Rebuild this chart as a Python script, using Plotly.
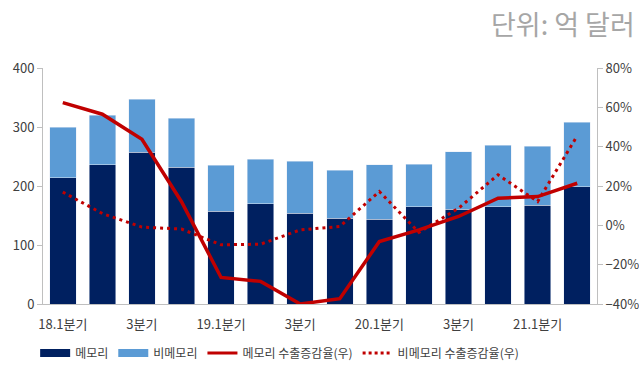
import plotly.graph_objects as go

quarters = ["18.1분기", "18.2분기", "18.3분기", "18.4분기",
            "19.1분기", "19.2분기", "19.3분기", "19.4분기",
            "20.1분기", "20.2분기", "20.3분기", "20.4분기",
            "21.1분기", "21.2분기"]
tick_labels = ["18.1분기", "", "3분기", "", "19.1분기", "", "3분기", "",
               "20.1분기", "", "3분기", "", "21.1분기", ""]
memory = [214, 236, 257, 232, 157, 170, 154, 145, 144, 165, 161, 165, 167, 199]
total = [300, 320, 347, 315, 235, 245, 242, 227, 236, 237, 258, 269, 267, 308]
non_memory = [t - m for t, m in zip(total, memory)]
memory_growth = [62.4, 56.5, 43.8, 12.0, -26.5, -28.5, -40.0, -37.3, -8.2, -2.3, 4.5, 13.8, 14.6, 21.4]
non_memory_growth = [16.9, 6.0, -0.9, -1.9, -9.9, -9.6, -2.3, -0.6, 17.2, -3.6, 8.7, 25.7, 12.1, 45.5]

NAVY = "#002060"
LIGHT = "#5B9BD5"
RED = "#C00000"
FONT = "Noto Sans CJK KR"

x = list(range(len(quarters)))

fig = go.Figure()
fig.add_trace(go.Bar(x=x, y=memory, marker_color=NAVY, name="메모리",
                     showlegend=False, hovertext=quarters))
fig.add_trace(go.Bar(x=x, y=non_memory, marker_color=LIGHT, name="비메모리",
                     showlegend=False, hovertext=quarters))
fig.add_trace(go.Scatter(x=x, y=memory_growth, yaxis="y2", mode="lines",
                         line=dict(color=RED, width=3.5), name="메모리 수출증감율(우)",
                         showlegend=False))
fig.add_trace(go.Scatter(x=x, y=non_memory_growth, yaxis="y2", mode="lines",
                         line=dict(color=RED, width=3, dash="3px,4px"),
                         name="비메모리 수출증감율(우)", showlegend=False))

# legend entries
fig.add_trace(go.Scatter(x=[None], y=[None], mode="lines",
                         line=dict(color=NAVY, width=8), name="메모리"))
fig.add_trace(go.Scatter(x=[None], y=[None], mode="lines",
                         line=dict(color=LIGHT, width=8), name="비메모리"))
fig.add_trace(go.Scatter(x=[None], y=[None], mode="lines",
                         line=dict(color=RED, width=3), name="메모리 수출증감율(우)"))
fig.add_trace(go.Scatter(x=[None], y=[None], mode="lines",
                         line=dict(color=RED, width=3, dash="3px,3px"),
                         name="비메모리 수출증감율(우)"))

axis_color = "#BFBFBF"
tick_font = dict(family=FONT, size=13, color="#404040")

fig.update_layout(
    width=639, height=365,
    margin=dict(l=43, r=42, t=68, b=61),
    paper_bgcolor="white", plot_bgcolor="white",
    barmode="stack", bargap=0.33,
    font=dict(family=FONT, size=13, color="#404040"),
    xaxis=dict(tickmode="array", tickvals=x, ticktext=tick_labels,
               range=[-0.5, len(x) - 0.5], showgrid=False, zeroline=False,
               showline=True, linecolor=axis_color, linewidth=1,
               ticks="", tickfont=tick_font, ticklabelstandoff=8,
               fixedrange=True, automargin=False),
    yaxis=dict(range=[0, 400], dtick=100, showgrid=False, zeroline=False,
               showline=True, linecolor=axis_color, linewidth=1,
               ticks="outside", ticklen=5, tickcolor=axis_color,
               tickfont=tick_font, fixedrange=True, automargin=False),
    yaxis2=dict(range=[-40, 80], dtick=20, ticksuffix="%", overlaying="y",
                side="right", showgrid=False, zeroline=False,
                showline=True, linecolor=axis_color, linewidth=1,
                ticks="outside", ticklen=5, tickcolor=axis_color,
                tickfont=tick_font, fixedrange=True, automargin=False),
    legend=dict(orientation="h", traceorder="normal",
                x=0.055, xref="container", xanchor="left",
                y=0.033, yref="container", yanchor="middle",
                font=dict(family=FONT, size=12, color="#404040"),
                itemwidth=30, tracegroupgap=0, bgcolor="rgba(0,0,0,0)"),
    annotations=[dict(text="단위: 억 달러", xref="paper", yref="paper",
                      x=1.073, y=1.19, xanchor="right", yanchor="middle",
                      showarrow=False,
                      font=dict(family=FONT, size=27, color="#A6A6A6"))],
)

fig.write_html("out.html")
